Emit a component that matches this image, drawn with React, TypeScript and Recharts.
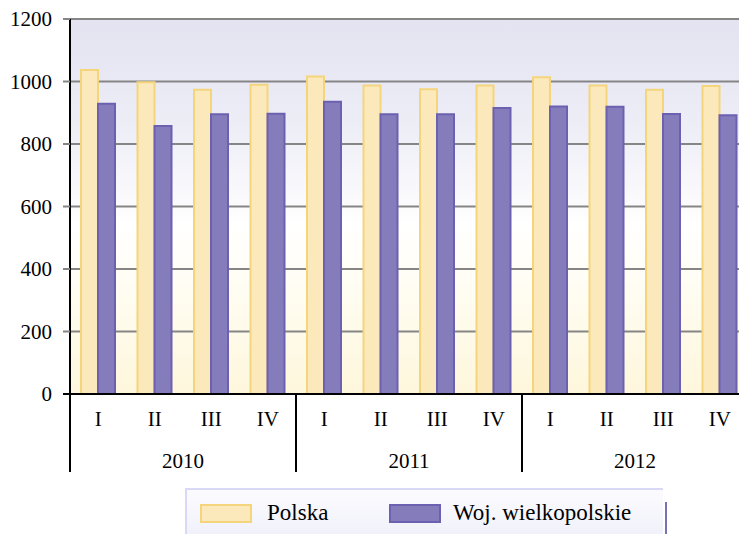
import React from 'react';
import { BarChart, Bar, XAxis, YAxis, CartesianGrid } from 'recharts';

const quarters = ['I', 'II', 'III', 'IV', 'I', 'II', 'III', 'IV', 'I', 'II', 'III', 'IV'];
const years = ['2010', '2010', '2010', '2010', '2011', '2011', '2011', '2011', '2012', '2012', '2012', '2012'];
const polska = [1037, 998, 974, 990, 1016, 987, 975, 987, 1014, 987, 974, 986];
const wielkopolskie = [929, 858, 895, 897, 935, 895, 895, 915, 920, 919, 896, 892];
const yTicks = [0, 200, 400, 600, 800, 1000, 1200];

const data = quarters.map((q, i) => ({
  key: `${years[i]}-${q}`,
  polska: polska[i],
  woj: wielkopolskie[i],
}));

const CHART_W = 760;
const CHART_H = 534;
const Y_W = 70;
const RIGHT = 12;
const BAND = (CHART_W - Y_W - RIGHT) / quarters.length;
const FONT = '"Liberation Serif", "Times New Roman", serif';
const txt = { fontFamily: FONT, fontSize: 21 };

const QuarterTick = (props: any) => {
  const { x, y, index } = props;
  return (
    <g>
      <text x={x} y={y + 32} textAnchor="middle" style={txt} fill="#000">
        {quarters[index]}
      </text>
      {index % 4 === 0 && (
        <line x1={x - BAND / 2} x2={x - BAND / 2} y1={y} y2={y + 78} stroke="#000" strokeWidth={2} />
      )}
      {index % 4 === 1 && (
        <text x={x + BAND / 2} y={y + 74} textAnchor="middle" style={txt} fill="#000">
          {years[index]}
        </text>
      )}
    </g>
  );
};

// tick mark drawn here so the 0 tick can be black like the axis
const ValueTick = (props: any) => {
  const { x, y, payload } = props;
  const zero = payload.value === 0;
  return (
    <g>
      <line x1={x + 11} x2={x + 18} y1={y} y2={y} stroke={zero ? '#000' : '#858585'} strokeWidth={2} />
      <text x={x} y={y + 7} textAnchor="end" style={txt} fill="#000">
        {payload.value}
      </text>
    </g>
  );
};

const App: React.FC = () => {
  return (
    <div style={{ position: 'relative', width: 739, height: 534, overflow: 'hidden', background: '#fff', fontFamily: FONT }}>
      <style>{'body{margin:0}'}</style>
      <BarChart
        width={CHART_W}
        height={CHART_H}
        data={data}
        margin={{ top: 19, right: RIGHT, left: 0, bottom: 60 }}
        barGap={0}
        barCategoryGap="20%"
      >
        <defs>
          <linearGradient id="plotBg" x1="0" y1="0" x2="0" y2="1">
            <stop offset="0%" stopColor="#e3e3f1" />
            <stop offset="30%" stopColor="#eeeef7" />
            <stop offset="55%" stopColor="#ffffff" />
            <stop offset="75%" stopColor="#fffcf0" />
            <stop offset="100%" stopColor="#fef7dc" />
          </linearGradient>
        </defs>
        <CartesianGrid vertical={false} stroke="#858585" strokeWidth={2} fill="url(#plotBg)" />
        <XAxis
          dataKey="key"
          interval={0}
          tick={<QuarterTick />}
          tickLine={false}
          tickSize={0}
          tickMargin={0}
          height={80}
          axisLine={{ stroke: '#000', strokeWidth: 2 }}
        />
        <YAxis
          domain={[0, 1200]}
          ticks={yTicks}
          width={Y_W}
          tickSize={7}
          tickMargin={11}
          tickLine={false}
          axisLine={{ stroke: '#000', strokeWidth: 2 }}
          tick={<ValueTick />}
        />
        <Bar dataKey="polska" name="Polska" fill="#fbe9bb" stroke="#f5d57c" strokeWidth={2} barSize={17} isAnimationActive={false} />
        <Bar dataKey="woj" name="Woj. wielkopolskie" fill="#857cbb" stroke="#6c60b0" strokeWidth={2} barSize={17} isAnimationActive={false} />
      </BarChart>

      {/* legend box */}
      <div
        style={{
          position: 'absolute',
          left: 185,
          top: 488,
          width: 478,
          height: 46,
          boxSizing: 'border-box',
          borderTop: '2px solid #d9d9f7',
          borderLeft: '2px solid #d9d9f7',
          background: 'linear-gradient(#fbfbff, #f1f1fa)',
          fontFamily: FONT,
          fontSize: 23,
          color: '#000',
        }}
      >
        <div style={{ position: 'absolute', left: 13, top: 14, width: 52, height: 19, boxSizing: 'border-box', background: '#fbe9bb', border: '2px solid #f5d57c' }} />
        <div style={{ position: 'absolute', left: 80, top: 9, lineHeight: '28px' }}>Polska</div>
        <div style={{ position: 'absolute', left: 202, top: 14, width: 52, height: 19, boxSizing: 'border-box', background: '#857cbb', border: '2px solid #6c60b0' }} />
        <div style={{ position: 'absolute', left: 266, top: 9, lineHeight: '28px', whiteSpace: 'nowrap' }}>Woj. wielkopolskie</div>
      </div>
      <div style={{ position: 'absolute', left: 665, top: 502, width: 2, height: 32, background: '#7a70b8' }} />
    </div>
  );
};

export default App;
